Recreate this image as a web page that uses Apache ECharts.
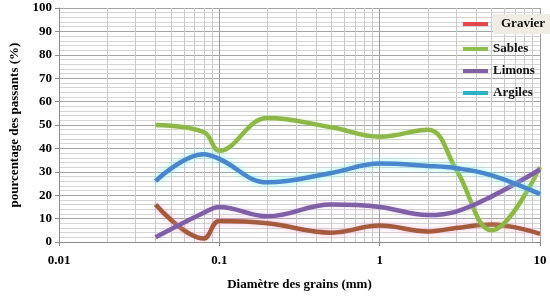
<!DOCTYPE html>
<html>
<head>
<meta charset="utf-8">
<script src="https://cdn.jsdelivr.net/npm/echarts@6/dist/echarts.min.js"></script>
<style>
  html, body { margin: 0; padding: 0; background: #ffffff; }
  #chart { width: 550px; height: 296px; }
</style>
</head>
<body>
<div id="chart"></div>
<script>
// diamètres (mm) des points mesurés
const diametres = [0.04, 0.08, 0.1, 0.2, 0.5, 1, 2, 3, 5, 10];

// pourcentages des passants
const gravier = [16, 1.5, 9, 8, 4, 7, 4.5, 6, 7.5, 3.5];
const sables = [50, 47, 39, 53, 49, 45, 48, 31, 5, 32];
const limons = [2, 12.5, 15, 11, 16, 15, 11.5, 13, 19.5, 31];
const argiles = [26, 37.5, 35.5, 25.5, 29.5, 33.5, 32.5, 31.5, 28.5, 20.5];

const xTickLabels = ['0.01', '0.1', '1', '10'];
const minorX = [0.02, 0.03, 0.04, 0.05, 0.06, 0.07, 0.08, 0.09,
  0.2, 0.3, 0.4, 0.5, 0.6, 0.7, 0.8, 0.9,
  2, 3, 4, 5, 6, 7, 8, 9];

const serif = '"Liberation Serif", "DejaVu Serif", serif';

function pairs(values) {
  return diametres.map((d, i) => [d, values[i]]);
}

// une courbe lissée avec un léger halo
function courbe(name, color, glow, values) {
  return {
    name: name,
    type: 'line',
    smooth: 0.4,
    symbol: 'rect',
    showSymbol: false,
    z: 3,
    data: pairs(values),
    itemStyle: { color: color },
    lineStyle: {
      width: 4.5,
      color: color,
      shadowColor: glow,
      shadowBlur: 6
    }
  };
}

// entrée de légende : trait plein d'une seule couleur
function entree(name, color, extra) {
  return Object.assign({
    name: name,
    itemStyle: { color: color, borderColor: color, borderWidth: 0 },
    lineStyle: { color: color, width: 4, shadowBlur: 0 }
  }, extra || {});
}

const chart = echarts.init(document.getElementById('chart'), null, { renderer: 'canvas' });

const option = {
  animation: false,
  backgroundColor: '#ffffff',
  grid: { left: 57, right: 10, top: 8, bottom: 52 },
  legend: {
    orient: 'vertical',
    left: 456,
    top: 9,
    itemWidth: 25,
    itemHeight: 4,
    itemGap: 8,
    textStyle: { fontFamily: serif, fontWeight: 'bold', fontSize: 13, color: '#111', lineHeight: 14 },
    data: [
      entree('Gravier', '#e2474b', { textStyle: { backgroundColor: '#efede3', padding: [3, 10, 3, 8] } }),
      entree('Sables', '#8cc04c'),
      entree('Limons', '#8064a2'),
      entree('Argiles', '#2db2c8')
    ]
  },
  xAxis: {
    type: 'log',
    logBase: 10,
    min: 0.01,
    max: 10,
    name: 'Diamètre des grains (mm)',
    nameLocation: 'middle',
    nameGap: 36,
    nameTextStyle: { fontFamily: serif, fontWeight: 'bold', fontSize: 13, color: '#000' },
    axisLine: { show: true, lineStyle: { color: '#8a8a8a' } },
    axisTick: { show: true, length: 4, lineStyle: { color: '#8a8a8a' } },
    axisLabel: {
      margin: 12,
      fontFamily: serif, fontWeight: 'bold', fontSize: 13, color: '#000',
      formatter: function (v) {
        const lbl = xTickLabels.find(t => Math.abs(parseFloat(t) - v) < 1e-9);
        return lbl || '';
      }
    },
    splitLine: { show: true, lineStyle: { color: '#9c9c9c', width: 1 } },
    minorTick: { show: false },
    minorSplitLine: { show: false }
  },
  yAxis: {
    type: 'value',
    min: 0,
    max: 100,
    interval: 10,
    name: 'pourcentage des passants (%)',
    nameLocation: 'middle',
    nameGap: 38,
    nameTextStyle: { fontFamily: serif, fontWeight: 'bold', fontSize: 13, color: '#000' },
    axisLine: { show: true, lineStyle: { color: '#8a8a8a' } },
    axisTick: { show: true, length: 4, lineStyle: { color: '#8a8a8a' } },
    axisLabel: { margin: 7, fontFamily: serif, fontWeight: 'bold', fontSize: 13, color: '#000' },
    splitLine: { show: true, lineStyle: { color: '#a4a4a4', width: 1 } },
    minorTick: { show: false, splitNumber: 5 },
    minorSplitLine: { show: true, lineStyle: { color: '#d4d4d4', width: 1 } }
  },
  series: [
    {
      // lignes secondaires verticales (2 à 9 de chaque décade), sous les courbes
      name: 'grille',
      type: 'line',
      data: [],
      silent: true,
      z: 1,
      markLine: {
        z: 1,
        silent: true,
        symbol: 'none',
        animation: false,
        label: { show: false },
        lineStyle: { color: '#cacaca', width: 1, type: 'solid' },
        data: minorX.map(v => ({ xAxis: v }))
      }
    },
    courbe('Gravier', '#a45a3c', 'rgba(255,170,210,0.7)', gravier),
    courbe('Sables', '#8db848', 'rgba(200,240,160,0.4)', sables),
    courbe('Limons', '#7f5fa6', 'rgba(220,190,240,0.5)', limons),
    courbe('Argiles', '#4a86cc', 'rgba(120,245,245,0.8)', argiles)
  ]
};

chart.setOption(option);
</script>
</body>
</html>
